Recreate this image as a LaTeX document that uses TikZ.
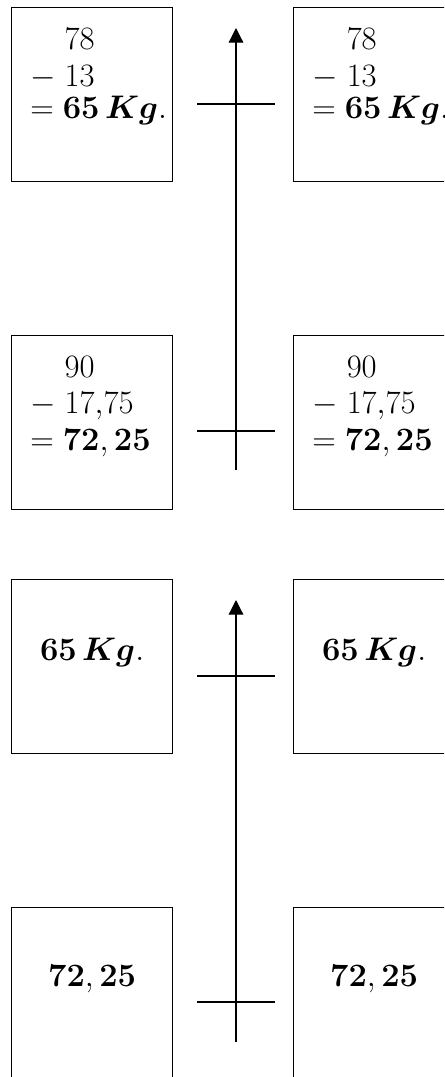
\documentclass[tikz,border=0pt]{standalone}
\usepackage{fix-cm}
\usepackage{amsmath}
\usetikzlibrary{arrows.meta,positioning}

\begin{document}
\begin{tikzpicture}[x=0.75pt,y=-0.75pt,
  every node/.style={font=\fontsize{24.5}{29}\selectfont,inner sep=0pt},
  box/.style={draw,line width=.9pt,anchor=north west,minimum width=120.75pt,minimum height=130.5pt},
  uparrow/.style={line width=.9pt,-{Triangle[length=11pt,width=11pt]}},
  tick/.style={line width=.9pt}]
\useasboundingbox (0,0) rectangle (444,1077);
\clip (0,0) rectangle (444,1077);
% top pair of boxes
\node[box] (aL) at (11,7) {};
\node[box] (aR) at (293,7) {};
\node[box] (bL) at (11,335) {};
\node[box] (bR) at (293,335) {};
\node[anchor=base west] (aL1) at ([shift={(19,43)}]aL.north west) {$\phantom{-}\;78$};
\node[anchor=base west] (aL2) at ([shift={(19,80)}]aL.north west) {$-\;13$};
\node[anchor=base west] (aL3) at ([shift={(19,112)}]aL.north west) {$=\mathbf{65}\,\boldsymbol{Kg}.$};
\node[anchor=base west] (aR1) at ([shift={(19,43)}]aR.north west) {$\phantom{-}\;78$};
\node[anchor=base west] (aR2) at ([shift={(19,80)}]aR.north west) {$-\;13$};
\node[anchor=base west] (aR3) at ([shift={(19,112)}]aR.north west) {$=\mathbf{65}\,\boldsymbol{Kg}.$};
\node[anchor=base west] (bL1) at ([shift={(19,42)}]bL.north west) {$\phantom{-}\;90$};
\node[anchor=base west] (bL2) at ([shift={(19,78)}]bL.north west) {$-\;17{,}75$};
\node[anchor=base west] (bL3) at ([shift={(19,115)}]bL.north west) {$=\mathbf{72,25}$};
\node[anchor=base west] (bR1) at ([shift={(19,42)}]bR.north west) {$\phantom{-}\;90$};
\node[anchor=base west] (bR2) at ([shift={(19,78)}]bR.north west) {$-\;17{,}75$};
\node[anchor=base west] (bR3) at ([shift={(19,115)}]bR.north west) {$=\mathbf{72,25}$};
\coordinate (top1) at (236,28);
\coordinate (bot1) at (236,470);
\draw[uparrow] (bot1) -- (top1);
\draw[tick] (197,104) -- (275,104);
\draw[tick] (197,431) -- (275,431);
% bottom pair of boxes
\node[box] (cL) at (11,579) {};
\node[box] (cR) at (293,579) {};
\node[box] (dL) at (11,907) {};
\node[box] (dR) at (293,907) {};
\node[anchor=base] (cL1) at ([yshift=-60.75pt]cL.north) {$\mathbf{65}\,\boldsymbol{Kg}.$};
\node[anchor=base] (cR1) at ([yshift=-60.75pt]cR.north) {$\mathbf{65}\,\boldsymbol{Kg}.$};
\node[anchor=base] (dL1) at ([yshift=-59.25pt]dL.north) {$\mathbf{72,25}$};
\node[anchor=base] (dR1) at ([yshift=-59.25pt]dR.north) {$\mathbf{72,25}$};
\coordinate (top2) at (236,600);
\coordinate (bot2) at (236,1042);
\draw[uparrow] (bot2) -- (top2);
\draw[tick] (197,676) -- (275,676);
\draw[tick] (197,1002) -- (275,1002);
\end{tikzpicture}
\end{document}
